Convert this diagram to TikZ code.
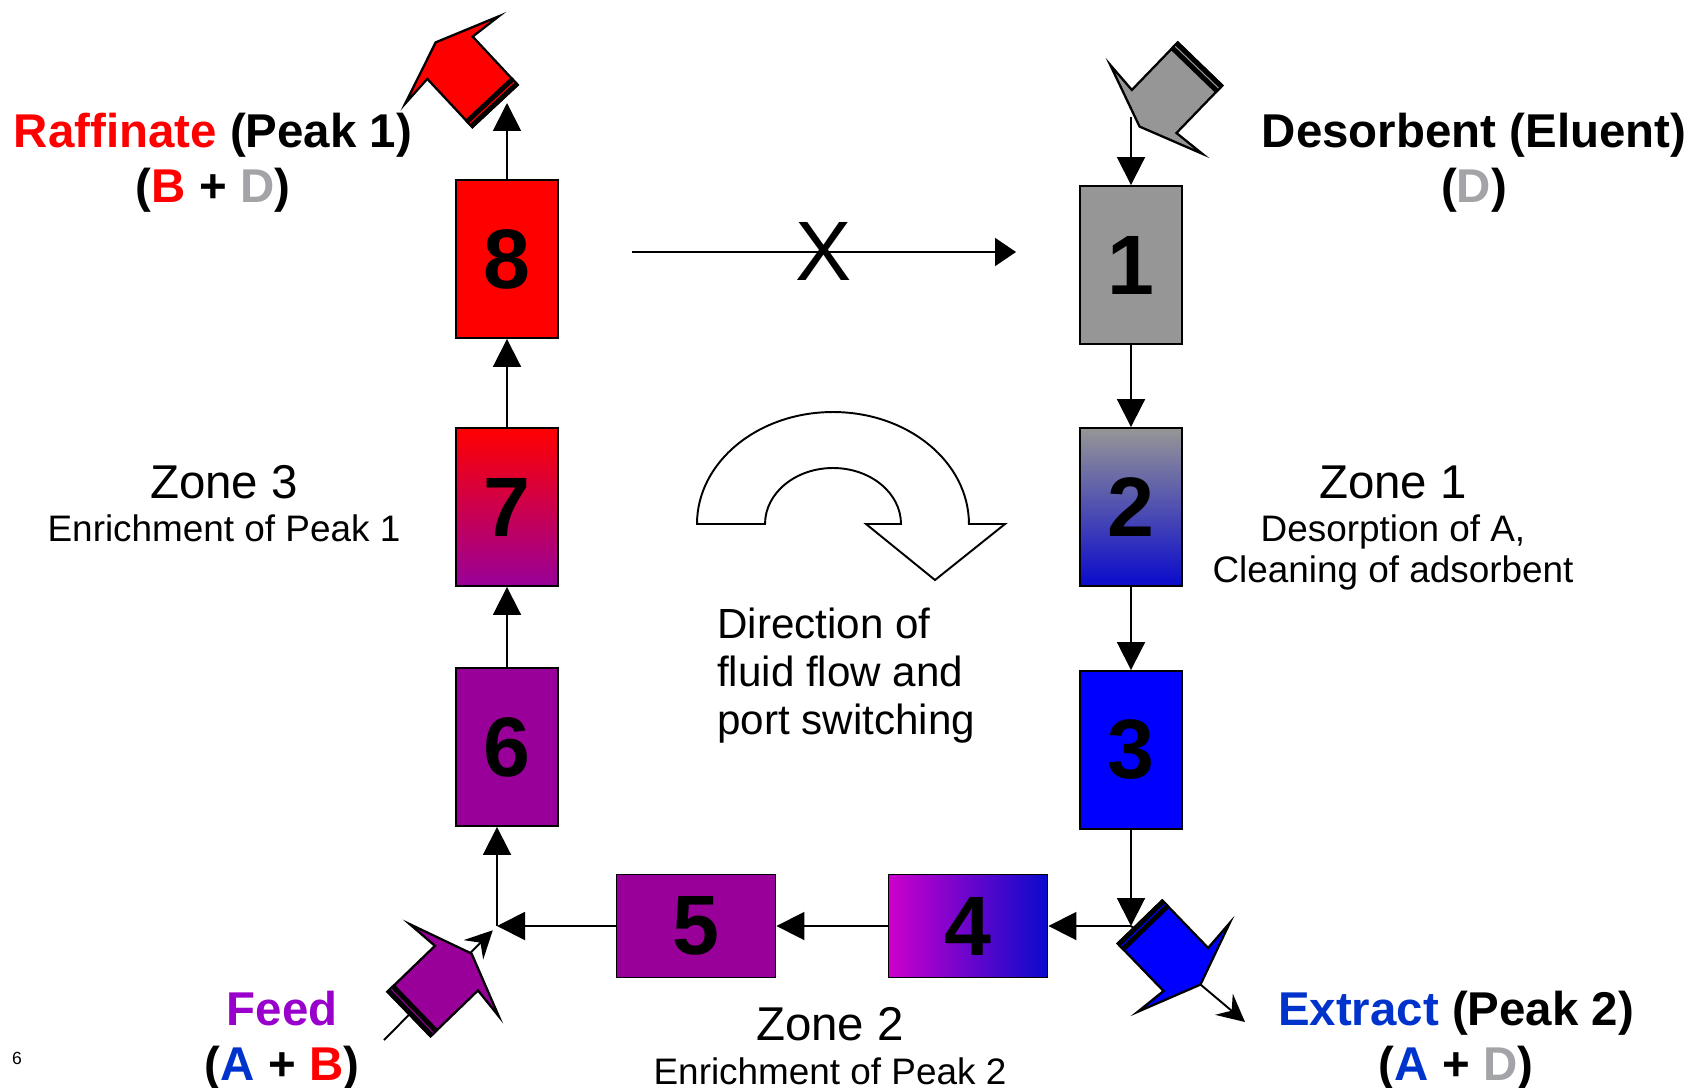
\documentclass[tikz,border=0pt]{standalone}
\usepackage{fontspec}
\setmainfont{Liberation Sans}
\usetikzlibrary{arrows.meta}

\definecolor{rafred}{RGB}{255,0,0}
\definecolor{desgray}{RGB}{150,150,150}
\definecolor{lightD}{RGB}{163,163,168}
\definecolor{extblue}{RGB}{0,0,255}
\definecolor{txtblue}{RGB}{0,51,204}
\definecolor{colpurple}{RGB}{153,0,153}
\definecolor{feedpurple}{RGB}{153,0,204}
\definecolor{magentafour}{RGB}{204,0,204}
\definecolor{deepblue}{RGB}{10,10,204}

\tikzset{
  port/.pic={
    \filldraw[fill=#1, line width=1.3pt, line join=miter] (0,-31) -- (66,-31) -- (63,-64) -- (87,0) -- (63,64) -- (66,31) -- (0,31) -- cycle;
    \filldraw[fill=black, line width=1.3pt] (0,-31) rectangle (9,31);
    \draw[#1, line width=0.6pt] (4.5,-30) -- (4.5,30);
  }
}

\begin{document}
\begin{tikzpicture}[x=0.02cm, y=-0.02cm,
  flow/.style={-{Triangle[length=0.56cm,width=0.56cm]}, line width=1.1pt},
  thinflow/.style={-{Triangle[length=0.42cm,width=0.56cm]}, line width=1.1pt},
  portline/.style={-{Stealth[length=0.55cm,width=0.55cm,inset=0.2cm]}, line width=1.1pt},
  col/.style={rectangle, draw, line width=1.1pt, inner sep=0pt, minimum width=2.04cm, minimum height=3.16cm, font=\fontsize{48}{48}\selectfont\bfseries},
  hcol/.style={col, minimum width=3.18cm, minimum height=2.06cm},
  plabel/.style={anchor=base, font=\fontsize{27}{32}\selectfont\bfseries},
  zone/.style={anchor=base, font=\fontsize{27}{32}\selectfont},
  zsub/.style={anchor=base, font=\fontsize{21}{25}\selectfont},
  note/.style={anchor=base west, font=\fontsize{24}{28}\selectfont}]

  \useasboundingbox (0,0) rectangle (1694,1088);

  % columns
  \node[col, fill=rafred] (8) at (507,259) {8};
  \node[col, top color=rafred, bottom color=colpurple] (7) at (507,507) {7};
  \node[col, fill=colpurple] (6) at (507,747) {6};
  \node[col, fill=desgray] (1) at (1131,265) {1};
  \node[col, top color=desgray, bottom color=deepblue] (2) at (1131,507) {2};
  \node[col, fill=extblue] (3) at (1131,750) {3};
  \node[hcol, fill=colpurple] (5) at (696,926) {5};
  \node[hcol, left color=magentafour, right color=deepblue] (4) at (968,926) {4};

  \coordinate (jl) at (497,926);
  \coordinate (jr) at (1131,926);
  \coordinate (raftip) at (507,103);
  \coordinate (destop) at (1131,117);
  \coordinate (feedsrc) at (384,1040);
  \coordinate (extip) at (1245,1022);
  \coordinate (xs) at (632,252);
  \coordinate (xe) at (1016,252);

  \path[flow]
    (6) edge (7)
    (7) edge (8)
    (8) edge (raftip)
    (destop) edge (1)
    (1) edge (2)
    (2) edge (3)
    (3) edge (jr)
    (jr) edge (4)
    (4) edge (5)
    (5) edge (jl)
    (jl) edge (jl |- 6.south)
  ;
  \draw[portline, shorten >=0.12cm] (feedsrc) -- (jl);
  \draw[portline] (jr) -- (extip);

  % no flow from 8 to 1
  \draw[thinflow] (xs) -- (xe);
  \node[font=\fontsize{48}{48}\selectfont, inner sep=0pt] (cross) at (824,251) {X};

  % ports
  \pic[rotate=133] at (495,106) {port=rafred};
  \pic[rotate=226] at (1200,64) {port=desgray};
  \pic[rotate=44] at (409,1014) {port=colpurple};
  \pic[rotate=-46] at (1140,922) {port=extblue};

  % switching direction
  \draw[line width=1.1pt, fill=white] (697,524) arc[start angle=180, end angle=0, x radius=2.72cm, y radius=2.24cm]
    -- (1005,524) -- (935,580) -- (866,524) -- (901,524)
    arc[start angle=0, end angle=180, x radius=1.36cm, y radius=1.12cm] -- cycle;

  \node[plabel] (raf) at (213,148) {\textcolor{rafred}{Raffinate} (Peak 1)};
  \node[plabel] (rafmix) at (213,202) {(\textcolor{rafred}{B} + \textcolor{lightD}{D})};
  \node[plabel] (des) at (1474,148) {Desorbent (Eluent)};
  \node[plabel] (desmix) at (1474,202) {(\textcolor{lightD}{D})};
  \node[plabel] (feed) at (282,1025) {\textcolor{feedpurple}{Feed}};
  \node[plabel] (feedmix) at (282,1080) {(\textcolor{txtblue}{A} + \textcolor{rafred}{B})};
  \node[plabel] (ext) at (1456,1025) {\textcolor{txtblue}{Extract} (Peak 2)};
  \node[plabel] (extmix) at (1456,1080) {(\textcolor{txtblue}{A} + \textcolor{lightD}{D})};

  \node[zone] (z3) at (224,498) {Zone 3};
  \node[zsub] (z3a) at (224,541) {Enrichment of Peak 1};
  \node[zone] (z1) at (1393,498) {Zone 1};
  \node[zsub] (z1a) at (1393,541) {Desorption of A,};
  \node[zsub] (z1b) at (1393,582) {Cleaning of adsorbent};
  \node[zone] (z2) at (830,1040) {Zone 2};
  \node[zsub] (z2a) at (830,1084) {Enrichment of Peak 2};

  \node[note] (dir1) at (711,638) {Direction of};
  \node[note] (dir2) at (711,686) {fluid flow and};
  \node[note] (dir3) at (711,734) {port switching};

  \node[anchor=base, font=\fontsize{10}{12}\selectfont] (page) at (17,1064) {6};
\end{tikzpicture}
\end{document}
